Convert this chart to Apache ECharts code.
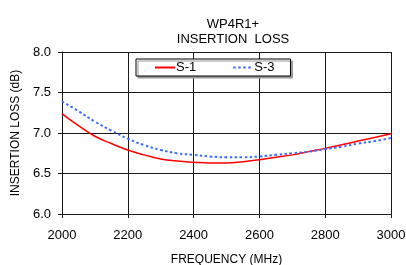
<!DOCTYPE html>
<html>
<head>
<meta charset="utf-8">
<script src="https://cdn.jsdelivr.net/npm/echarts@6/dist/echarts.min.js"></script>
<style>
  html, body { margin: 0; padding: 0; background: #fff; }
  #chart { width: 406px; height: 265px; }
</style>
</head>
<body>
<div id="chart"></div>
<script>
// frequency (MHz)
const freqs = [2000, 2050, 2100, 2150, 2200, 2250, 2300, 2350, 2400, 2450, 2500,
  2550, 2600, 2650, 2700, 2750, 2800, 2850, 2900, 2950, 3000]
// insertion loss (dB)
const s1 = [7.24, 7.09, 6.96, 6.87, 6.79, 6.73, 6.68, 6.655, 6.64, 6.63, 6.63,
  6.645, 6.67, 6.70, 6.73, 6.77, 6.81, 6.855, 6.90, 6.945, 6.99]
const s3 = [7.39, 7.27, 7.14, 7.03, 6.93, 6.85, 6.79, 6.75, 6.73, 6.71, 6.70,
  6.70, 6.71, 6.73, 6.75, 6.77, 6.80, 6.83, 6.87, 6.90, 6.94]

const font = 'Liberation Sans, Arial, sans-serif'
const gridColor = '#1a1a1a'

const chart = echarts.init(document.getElementById('chart'))
chart.setOption({
  animation: false,
  textStyle: {fontFamily: font, color: '#000'},
  title: {
    text: 'WP4R1+\nINSERTION  LOSS',
    left: 228,
    top: 12,
    textAlign: 'center',
    textStyle: {fontSize: 13, fontWeight: 'normal', lineHeight: 15, color: '#000', fontFamily: font}
  },
  legend: {
    left: 136,
    top: 59,
    padding: [2, 16, 2, 18],
    itemGap: 36,
    itemWidth: 20,
    itemHeight: 12,
    backgroundColor: '#fff',
    borderColor: '#000',
    borderWidth: 1,
    shadowColor: '#999',
    shadowOffsetX: 2,
    shadowOffsetY: 2,
    itemStyle: {opacity: 0},
    textStyle: {fontSize: 13, color: '#000', fontFamily: font, padding: [0, 0, 0, -4]},
    data: ['S-1', 'S-3']
  },
  grid: {left: 62, right: 15, top: 52, bottom: 51, outerBoundsMode: 'none'},
  xAxis: {
    type: 'value',
    min: 2000,
    max: 3000,
    interval: 200,
    name: 'FREQUENCY (MHz)',
    nameLocation: 'middle',
    nameGap: 40,
    nameTextStyle: {fontSize: 12, color: '#000'},
    axisLine: {lineStyle: {color: gridColor, width: 1}},
    axisTick: {show: true, length: 4, lineStyle: {color: gridColor}},
    axisLabel: {fontSize: 13, color: '#000', margin: 15, formatter: v => String(v)},
    splitLine: {show: true, lineStyle: {color: gridColor, width: 1}}
  },
  yAxis: {
    type: 'value',
    min: 6,
    max: 8,
    interval: 0.5,
    name: 'INSERTION LOSS (dB)',
    nameLocation: 'middle',
    nameGap: 36,
    nameTextStyle: {fontSize: 12, color: '#000'},
    axisLine: {show: true, lineStyle: {color: gridColor, width: 1}},
    axisTick: {show: true, length: 4, lineStyle: {color: gridColor}},
    axisLabel: {fontSize: 13, color: '#000', margin: 11, formatter: v => v.toFixed(1)},
    splitLine: {show: true, lineStyle: {color: gridColor, width: 1}}
  },
  series: [
    {
      name: 'S-1',
      type: 'line',
      symbol: 'none',
      smooth: true,
      data: freqs.map((f, i) => [f, s1[i]]),
      lineStyle: {color: '#ff0000', width: 1.5},
      itemStyle: {color: '#ff0000'}
    },
    {
      name: 'S-3',
      type: 'line',
      symbol: 'none',
      smooth: true,
      data: freqs.map((f, i) => [f, s3[i]]),
      lineStyle: {color: '#3a6cff', width: 2, type: [2.5, 2.5]},
      itemStyle: {color: '#3a6cff'}
    }
  ]
})
</script>
</body>
</html>
